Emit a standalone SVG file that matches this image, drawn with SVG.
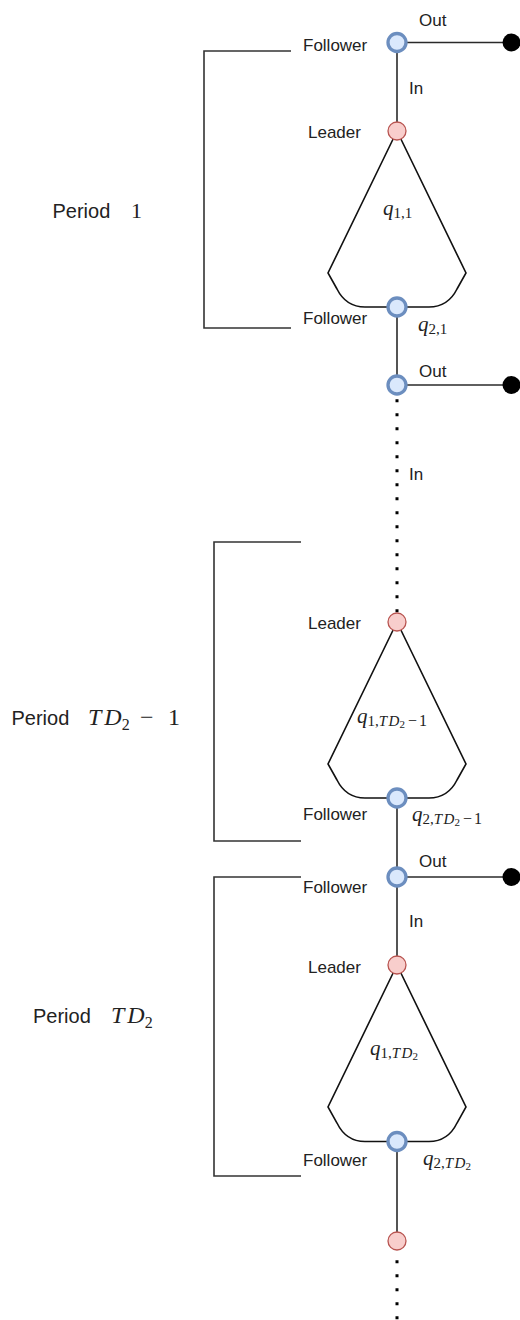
<svg xmlns="http://www.w3.org/2000/svg" width="520" height="1320" viewBox="0 0 520 1320">
<style>
.lbl{font-family:"Liberation Sans",Arial,sans-serif;font-size:17px;fill:#222}
.per{font-family:"Liberation Sans",Arial,sans-serif;font-size:20px;fill:#222}
.m{font-family:"Liberation Serif","Times New Roman",serif;fill:#222}
.it{font-style:italic}
.fol{fill:#dae8fc;stroke:#6c8ebf;stroke-width:3.3}
.lea{fill:#f8cecc;stroke:#b85450;stroke-width:1.3}
.dot{fill:#000}
.edge{stroke:#2a2a2a;stroke-width:1.6;fill:none}
.dash{stroke:#000;stroke-width:3;stroke-dasharray:3 11;fill:none}
.cone{stroke:#111;stroke-width:1.6;fill:none}
.br{stroke:#333;stroke-width:1.6;fill:none}
</style>
<rect width="520" height="1320" fill="#fff"/>
<g id="connectors">
<path class="edge" d="M397,42.5 V131"/>
<path class="edge" d="M397,307 V385"/>
<path class="edge" d="M397,799 V877"/>
<path class="edge" d="M397,877 V965"/>
<path class="edge" d="M397,1141.5 V1241"/>
<path class="edge" d="M397,42.5 H511"/>
<path class="edge" d="M397,385 H511"/>
<path class="edge" d="M397,877 H511"/>
<path class="dash" d="M397,399.2 V616"/>
<path class="dash" d="M397,1260.2 V1320"/>
<text class="lbl" x="419" y="26">Out</text>
<text class="lbl" x="409" y="94">In</text>
<text class="lbl" x="419" y="377">Out</text>
<text class="lbl" x="409" y="480">In</text>
<text class="lbl" x="419" y="867">Out</text>
<text class="lbl" x="409" y="927">In</text>
</g>
<g id="brackets">
<path class="br" d="M291,51 H204 V328 H291"/>
<path class="br" d="M301,542 H214 V841 H301"/>
<path class="br" d="M301,877 H214 V1176 H301"/>
<text class="per" x="52.5" y="217.5">Period<tspan class="m" x="131" font-size="22">1</tspan></text>
<text class="per" x="11.5" y="725">Period<tspan class="m it" x="88" font-size="24">T</tspan><tspan class="m it" font-size="24" dx="3">D</tspan><tspan class="m" font-size="16" dy="5">2</tspan><tspan class="m" font-size="24" dy="-5" x="140">−</tspan><tspan class="m" font-size="24" x="168">1</tspan></text>
<text class="per" x="33" y="1023">Period<tspan class="m it" x="111" font-size="24">T</tspan><tspan class="m it" font-size="24" dx="3">D</tspan><tspan class="m" font-size="16" dy="5">2</tspan></text>
</g>
<g id="cone1">
<path class="cone" d="M397,131 L328,273 L337,289 Q346,307 365,307 H429 Q448,307 457,289 L466,273 Z"/>
<text class="m" x="383" y="215"><tspan class="it" font-size="21">q</tspan><tspan font-size="15" dy="3">1,1</tspan></text>
</g>
<g id="cone2">
<path class="cone" d="M397,622 L328,764 L337,780 Q346,798 365,798 H429 Q448,798 457,780 L466,764 Z"/>
<text class="m" x="357" y="723"><tspan class="it" font-size="21">q</tspan><tspan font-size="15" dy="3">1,</tspan><tspan class="it" font-size="15">T</tspan><tspan class="it" font-size="15" dx="1.5">D</tspan><tspan font-size="11" dy="2">2</tspan><tspan font-size="16" dy="-2" dx="3">−</tspan><tspan font-size="16" dx="2">1</tspan></text>
</g>
<g id="cone3">
<path class="cone" d="M397,965 L328,1107 L337,1123 Q346,1141.5 365,1141.5 H429 Q448,1141.5 457,1123 L466,1107 Z"/>
<text class="m" x="370" y="1055"><tspan class="it" font-size="21">q</tspan><tspan font-size="15" dy="3">1,</tspan><tspan class="it" font-size="15">T</tspan><tspan class="it" font-size="15" dx="1.5">D</tspan><tspan font-size="11" dy="2">2</tspan></text>
</g>
<g id="follower1">
<circle class="fol" cx="397" cy="42.5" r="9"/>
<text class="lbl" x="303" y="51">Follower</text>
</g>
<g id="out1"><circle class="dot" cx="511.5" cy="42.5" r="9"/></g>
<g id="leader1">
<circle class="lea" cx="397" cy="131" r="9"/>
<text class="lbl" x="308" y="138">Leader</text>
</g>
<g id="follower2">
<circle class="fol" cx="397" cy="307" r="9"/>
<text class="lbl" x="303" y="323.5">Follower</text>
<text class="m" x="418" y="331"><tspan class="it" font-size="21">q</tspan><tspan font-size="15" dy="3">2,1</tspan></text>
</g>
<g id="follower3"><circle class="fol" cx="397" cy="385" r="9"/></g>
<g id="out2"><circle class="dot" cx="511.5" cy="385" r="9"/></g>
<g id="leader2">
<circle class="lea" cx="397" cy="622" r="9"/>
<text class="lbl" x="308" y="629">Leader</text>
</g>
<g id="follower4">
<circle class="fol" cx="397" cy="798" r="9"/>
<text class="lbl" x="303" y="820">Follower</text>
<text class="m" x="412" y="821"><tspan class="it" font-size="21">q</tspan><tspan font-size="15" dy="3">2,</tspan><tspan class="it" font-size="15">T</tspan><tspan class="it" font-size="15" dx="1.5">D</tspan><tspan font-size="11" dy="2">2</tspan><tspan font-size="16" dy="-2" dx="3">−</tspan><tspan font-size="16" dx="2">1</tspan></text>
</g>
<g id="follower5">
<circle class="fol" cx="397" cy="877" r="9"/>
<text class="lbl" x="303" y="893">Follower</text>
</g>
<g id="out3"><circle class="dot" cx="511.5" cy="877" r="9"/></g>
<g id="leader3">
<circle class="lea" cx="397" cy="965" r="9"/>
<text class="lbl" x="308" y="973">Leader</text>
</g>
<g id="follower6">
<circle class="fol" cx="397" cy="1141.5" r="9"/>
<text class="lbl" x="303" y="1166">Follower</text>
<text class="m" x="423" y="1165"><tspan class="it" font-size="21">q</tspan><tspan font-size="15" dy="3">2,</tspan><tspan class="it" font-size="15">T</tspan><tspan class="it" font-size="15" dx="1.5">D</tspan><tspan font-size="11" dy="2">2</tspan></text>
</g>
<g id="leader4"><circle class="lea" cx="397" cy="1241" r="9"/></g>
</svg>
